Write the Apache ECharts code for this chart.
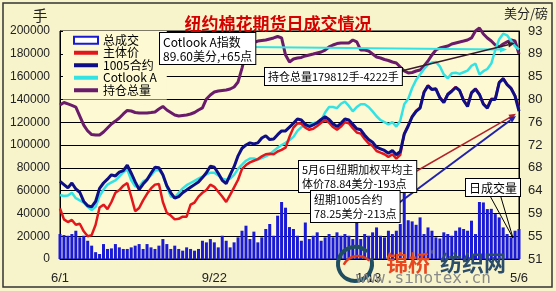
<!DOCTYPE html>
<html>
<head>
<meta charset="utf-8">
<script src="https://cdn.jsdelivr.net/npm/echarts@6/dist/echarts.min.js"></script>
<style>
  html, body { margin: 0; padding: 0; background: #f7f4cc; }
  #chart { width: 556px; height: 291px; }
</style>
</head>
<body>
<div id="chart"></div>
<script>
// about one point every two trading days, 2009-06-01 .. 2010-05-06
const tickIndex = [0, 39, 78, 116];
const tickLabels = ['6/1', '9/22', '1/13', '5/6'];

// 总成交 (手)
const volume = [
  21900, 21000, 20400, 21900, 24800, 19000, 20400, 16000, 11700, 6000,
  4400, 13100, 8800, 9300, 13100, 10200, 8800, 8800, 10200, 11700,
  13100, 8800, 13100, 10200, 8800, 11700, 17500, 13100, 8800, 11700,
  8800, 7300, 10200, 8800, 7300, 8800, 16000, 14600, 17500, 14600,
  10200, 20400, 16000, 10200, 14600, 19000, 24800, 29200, 17500, 24000,
  14600, 19000, 26300, 30700, 20400, 38000, 50000, 45000,
  28000, 26300, 20400, 16000, 32000, 17500, 20400, 23400, 16000, 19000,
  21900, 19000, 23400, 20400, 21900, 20400, 17500, 39400, 17500, 21900,
  20400, 23400, 27700, 20400, 19000, 24800, 21900, 24800, 30700, 60000,
  34000, 33000, 30000, 36500, 21900, 27700, 24800, 19000, 18000, 23400,
  21900, 20400, 24800, 27700, 26300, 24800, 33600, 21900, 50000, 49600,
  43800, 44000, 39400, 36500, 27700, 21900, 19000, 24800, 26300
];

// 持仓总量 (手)
const openInterest = [
  135100, 137300, 136000, 134700, 133300, 125400, 117500, 112300, 109200, 108800,
  108800, 111400, 114900, 118400, 121000, 123700, 127200, 130300, 129800, 128500,
  128100, 128100, 128100, 128500, 129000, 131600, 133800, 130700, 128500, 126300,
  125400, 125900, 126300, 127200, 128500, 130700, 132500, 140400, 143900, 146500,
  147400, 147800, 148200, 149100, 150900, 155300, 167500, 181600, 188600, 189900,
  191200, 191700, 192100, 193000, 193900, 195200, 193900, 178900, 172800, 175400,
  176300, 176800, 178100, 179000, 179800, 180700, 181600, 183300, 186000, 187700,
  189000, 189500, 189500, 189500, 192100, 190400, 183300, 183300, 182500, 179800,
  177200, 176300, 175000, 174100, 172800, 171900, 168400, 164900, 163200, 163600,
  164900, 165800, 169300, 173700, 179000, 183300, 185100, 186000, 186800, 188600,
  189500, 190400, 191200, 192100, 193900, 200000, 202600, 197400, 193900, 191200,
  187700, 186000, 188600, 190400, 192100, 191200, 179812
];

// 主体价 (美分/磅)
const mainPrice = [
  60.3, 58.3, 57.8, 58.2, 57.3, 57.5, 56.1, 55.2, 55.4, 57.3,
  60.5, 61.0, 60.2, 61.5, 63.2, 63.7, 64.5, 65.0, 62.5, 59.8,
  60.4, 61.8, 63.0, 64.0, 64.7, 64.8, 61.5, 59.5, 59.0, 58.3,
  58.4, 58.8, 58.8, 61.0, 61.4, 62.5, 63.2, 63.7, 64.7, 64.3,
  63.4, 62.5, 61.5, 62.8, 64.2, 65.6, 67.6, 68.3, 68.8, 69.1,
  69.4, 69.9, 70.3, 70.4, 70.3, 70.8, 71.1, 71.5, 73.5, 75.2,
  76.0, 75.9, 75.2, 74.8, 75.0, 75.5, 76.1, 76.6, 76.1, 75.3,
  74.8, 75.4, 76.2, 76.0, 75.1, 74.3, 74.1, 73.1, 72.3, 71.8,
  70.9, 70.6, 70.3, 69.8, 70.3, 69.5, 70.2, 74.1, 75.6, 77.3,
  78.3, 78.9, 81.8, 83.0, 82.3, 82.4, 80.8, 79.9, 81.4, 82.0,
  82.7, 82.1, 80.3, 79.2, 81.7, 82.4, 81.4, 79.6, 78.9, 80.5,
  80.5, 83.6, 84.3, 83.2, 82.5, 81.1, 78.84
];

// 1005合约
const may10 = [
  65.3, 64.7, 64.1, 65.0, 63.9, 63.3, 61.6, 60.8, 60.6, 61.6,
  64.0, 65.0, 65.7, 66.5, 66.3, 67.0, 67.3, 68.3, 66.8, 65.2,
  63.8, 64.8, 65.6, 66.8, 67.9, 67.8, 66.5, 64.5, 63.2, 62.2,
  62.5, 63.2, 63.7, 64.2, 64.7, 65.2, 66.0, 66.9, 68.1, 67.9,
  66.8, 65.5, 64.9, 66.5, 68.0, 70.0, 71.4, 72.0, 72.4, 72.2,
  72.4, 73.3, 73.7, 73.0, 73.1, 73.9, 74.6, 74.6, 75.3, 76.0,
  76.8, 76.6, 75.8, 75.4, 75.7, 76.1, 76.7, 77.2, 76.7, 75.9,
  75.4, 76.0, 76.8, 76.6, 75.8, 75.0, 74.8, 73.8, 73.0, 72.5,
  71.6, 71.3, 71.0, 70.5, 71.0, 70.2, 70.8, 74.0, 75.5, 77.2,
  78.2, 78.8, 81.7, 82.9, 82.2, 82.3, 80.7, 79.8, 81.3, 81.9,
  82.6, 82.0, 80.2, 79.1, 81.6, 82.3, 81.3, 79.5, 78.8, 80.4,
  80.4, 83.5, 84.2, 83.1, 82.4, 81.0, 78.25
];

// Cotlook A
const cotlook = [
  62.8, 62.6, 62.7, 63.2, 62.2, 61.8, 61.4, 60.6, 60.0, 60.6,
  62.6, 63.8, 64.7, 65.1, 65.5, 66.2, 67.0, 67.5, 65.5, 64.4,
  64.3, 65.3, 65.7, 66.4, 67.3, 67.4, 66.5, 64.3, 62.5, 62.3,
  63.2, 64.0, 64.6, 65.0, 65.4, 65.8, 66.2, 66.6, 66.9, 66.9,
  66.4, 65.8, 65.6, 65.8, 66.5, 67.6, 68.4, 69.1, 69.5, 69.5,
  69.3, 69.6, 69.9, 70.3, 70.9, 71.5, 72.0, 72.4, 72.9, 73.5,
  74.6, 75.3, 75.6, 75.8, 76.0, 76.2, 76.5, 78.0, 79.0, 79.0,
  78.8, 79.6, 80.0, 79.2, 78.2, 79.0, 79.5, 79.5, 79.0, 78.2,
  77.3, 76.6, 76.2, 75.8, 76.2, 75.4, 76.5, 79.5, 80.5, 82.5,
  84.0, 85.0, 86.0, 86.8, 87.2, 87.3, 86.5, 85.0, 84.3, 85.2,
  85.3, 85.1, 85.4, 85.7, 86.6, 87.0, 85.0, 85.6, 86.0, 87.0,
  89.5, 91.5, 92.5, 92.2, 91.2, 90.2, 89.6
];

const categories = volume.map((v, i) => String(i));
const labelAt = {};
tickIndex.forEach((idx, k) => { labelAt[idx] = tickLabels[k]; });

const FONT = '"Noto Sans CJK SC", sans-serif';
const PLOT_BG = '#fcf9d3';
const LINE_ICON = 'path://M0,0h24v4h-24z';

const chart = echarts.init(document.getElementById('chart'));

chart.setOption({
  backgroundColor: '#f7f4cc',
  animation: false,
  title: {
    text: '纽约棉花期货日成交情况',
    left: 'center',
    top: 10,
    textStyle: {
      color: '#d50000',
      fontSize: 17,
      fontWeight: 'bold',
      fontFamily: FONT,
      textShadowColor: '#3a0000',
      textShadowOffsetX: 1,
      textShadowOffsetY: 1
    }
  },
  legend: {
    orient: 'vertical',
    left: 63,
    top: 31,
    padding: [3, 10, 3, 10],
    backgroundColor: PLOT_BG,
    itemWidth: 24,
    itemHeight: 7,
    itemGap: 0,
    symbolKeepAspect: true,
    textStyle: { fontSize: 12, lineHeight: 12.5, color: '#000', fontFamily: FONT },
    data: [
      { name: '总成交', icon: 'rect', itemStyle: { color: '#fff', borderColor: '#1a1ad4', borderWidth: 2 } },
      { name: '主体价', icon: LINE_ICON },
      { name: '1005合约', icon: LINE_ICON },
      { name: 'Cotlook A', icon: LINE_ICON },
      { name: '持仓总量', icon: LINE_ICON }
    ]
  },
  grid: {
    left: 60,
    right: 37,
    top: 31,
    bottom: 32,
    show: true,
    backgroundColor: PLOT_BG,
    borderColor: '#000',
    borderWidth: 1
  },
  xAxis: {
    type: 'category',
    data: categories,
    boundaryGap: false,
    axisLine: { lineStyle: { color: '#000' } },
    axisTick: { show: false },
    axisLabel: {
      interval: (idx) => labelAt[idx] !== undefined,
      formatter: (v) => labelAt[v] || '',
      color: '#222',
      fontSize: 13,
      fontFamily: 'Liberation Sans',
      margin: 13
    }
  },
  yAxis: [
    {
      type: 'value',
      min: 0,
      max: 200000,
      interval: 20000,
      axisLine: { show: true, lineStyle: { color: '#000' } },
      axisTick: { show: false },
      axisLabel: {
        color: '#222', fontSize: 12, fontFamily: 'Liberation Sans', margin: 10,
        formatter: (v) => String(v)
      },
      splitLine: { lineStyle: { color: '#000', width: 1 } }
    },
    {
      type: 'value',
      min: 51,
      max: 93,
      alignTicks: true,
      axisLine: { show: true, lineStyle: { color: '#000' } },
      axisTick: { show: false },
      axisLabel: {
        color: '#222',
        fontSize: 13,
        fontFamily: 'Liberation Sans',
        margin: 9,
        formatter: (v) => String(Math.round(v))
      },
      splitLine: { show: false }
    }
  ],
  series: [
    {
      name: '总成交',
      type: 'bar',
      data: volume,
      barWidth: 3,
      itemStyle: { color: '#1a1ad4' }
    },
    {
      name: '持仓总量',
      type: 'line',
      data: openInterest,
      symbol: 'none',
      clip: false,
      lineStyle: { color: '#6a1b6a', width: 3 },
      itemStyle: { color: '#6a1b6a' }
    },
    {
      name: 'Cotlook A',
      type: 'line',
      yAxisIndex: 1,
      data: cotlook,
      symbol: 'none',
      lineStyle: { color: '#33e3e3', width: 2.5 },
      itemStyle: { color: '#33e3e3' }
    },
    {
      name: '主体价',
      type: 'line',
      yAxisIndex: 1,
      data: mainPrice,
      symbol: 'none',
      lineStyle: { color: '#e3161b', width: 2.5 },
      itemStyle: { color: '#e3161b' }
    },
    {
      name: '1005合约',
      type: 'line',
      yAxisIndex: 1,
      data: may10,
      symbol: 'none',
      lineStyle: { color: '#0e0e86', width: 3 },
      itemStyle: { color: '#0e0e86' }
    }
  ]
});

// callout arrows point at the last values through the axes
function arrow(p1, p2, color, width) {
  const a = Math.atan2(p2[1] - p1[1], p2[0] - p1[0]);
  const L = 7, W = 3;
  const bx = p2[0] - L * Math.cos(a), by = p2[1] - L * Math.sin(a);
  return [
    { type: 'line', z: 100, shape: { x1: p1[0], y1: p1[1], x2: bx, y2: by }, style: { stroke: color, lineWidth: width } },
    { type: 'polygon', z: 100, shape: { points: [
      [p2[0], p2[1]],
      [bx + W * Math.sin(a), by - W * Math.cos(a)],
      [bx - W * Math.sin(a), by + W * Math.cos(a)]
    ] }, style: { fill: color } }
  ];
}

function box(text, x, y, size) {
  return {
    type: 'text', z: 110, x: x, y: y,
    style: {
      text: text, fill: '#000', font: (size || 11) + 'px ' + FONT, lineHeight: 14,
      backgroundColor: '#fff', borderColor: '#000', borderWidth: 1, padding: [2, 3, 1, 3]
    }
  };
}

const last = categories.length - 1;
const cotEnd = chart.convertToPixel({ xAxisIndex: 0, yAxisIndex: 1 }, [last, cotlook[last]]);
const oiEnd = chart.convertToPixel({ xAxisIndex: 0, yAxisIndex: 0 }, [last - 1, openInterest[last - 1]]);
const mainEnd = chart.convertToPixel({ xAxisIndex: 0, yAxisIndex: 1 }, [last, mainPrice[last]]);
const mayEnd = chart.convertToPixel({ xAxisIndex: 0, yAxisIndex: 1 }, [last, may10[last]]);

const elements = [].concat(
  arrow([248, 47], [cotEnd[0] - 12, cotEnd[1]], '#33e3e3', 2),
  arrow([389, 74], [oiEnd[0], oiEnd[1] + 2], '#3a1a2a', 1.5),
  arrow([408, 176], [mainEnd[0] - 3, mainEnd[1] + 6], '#b3222a', 1.5),
  arrow([392, 208], [mayEnd[0] - 3, mayEnd[1] + 5], '#2222aa', 2),
  [
    box('Cotlook A指数\n89.60美分,+65点', 160, 33, 12),
    box('持仓总量179812手-4222手', 265, 68),
    box('5月6日纽期加权平均主\n体价78.84美分-193点', 299, 161),
    box('纽期1005合约\n78.25美分-213点', 311, 191),
    box('日成交量', 466, 179, 12),
    { type: 'polyline', z: 105, shape: { points: [[489, 194], [513, 238], [500, 194]] },
      style: { stroke: '#000', lineWidth: 1, fill: null } },
    // axis units
    { type: 'text', x: 40, y: 15, style: { text: '手', font: '15px ' + FONT, fill: '#222', align: 'center', verticalAlign: 'middle' } },
    { type: 'text', x: 526, y: 13, style: { text: '美分/磅', font: '13px ' + FONT, fill: '#222', align: 'center', verticalAlign: 'middle' } },
    // outer frame
    { type: 'rect', z: 90, shape: { x: 3, y: 3, width: 549, height: 284 }, style: { fill: null, stroke: '#333', lineWidth: 1.5 } },
    // site watermark
    { type: 'arc', z: 200, shape: { cx: 355, cy: 264, r: 17, startAngle: -Math.PI * 0.1, endAngle: Math.PI * 1.75 },
      style: { stroke: '#1f4e60', lineWidth: 4, fill: null } },
    { type: 'arc', z: 201, shape: { cx: 358, cy: 272, r: 16, startAngle: Math.PI * 1.15, endAngle: Math.PI * 1.75 },
      style: { stroke: '#e03a1a', lineWidth: 2.5, fill: null } },
    { type: 'text', z: 200, x: 386, y: 263, style: { text: '锦桥', font: 'bold 22px ' + FONT, fill: '#e8471f', verticalAlign: 'middle' } },
    { type: 'text', z: 200, x: 431, y: 254, style: { text: '®', font: '9px ' + FONT, fill: '#888', verticalAlign: 'middle' } },
    { type: 'text', z: 200, x: 440, y: 263, style: { text: '纺织网', font: 'bold 22px ' + FONT, fill: '#2b4d6a', verticalAlign: 'middle' } },
    { type: 'text', z: 200, x: 356, y: 279, style: { text: 'www.sinotex.cn', font: '16px "DejaVu Sans Mono"', fill: '#8a8a8a', verticalAlign: 'middle' } }
  ]
);

chart.setOption({ graphic: { elements: elements } });
</script>
</body>
</html>
